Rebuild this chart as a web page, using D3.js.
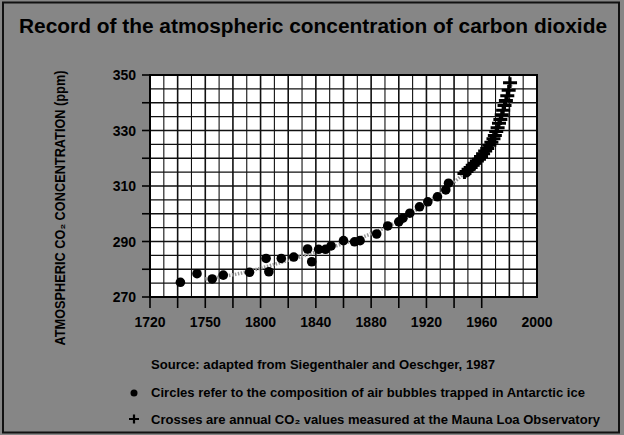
<!DOCTYPE html>
<html>
<head>
<meta charset="utf-8">
<script src="https://cdn.jsdelivr.net/npm/d3@7"></script>
<style>
  html, body { margin: 0; padding: 0; background: #868686; }
  svg { display: block; }
  text { font-family: "Liberation Sans", Arial, sans-serif; fill: #000; }
</style>
</head>
<body>
<svg id="chart" width="624" height="435"></svg>
<script>
// ---- data ----
const iceYears = [1742, 1754, 1765, 1773, 1792, 1804, 1806, 1815, 1824, 1834, 1837, 1842, 1847, 1851, 1860, 1868, 1872, 1884, 1892, 1900, 1903, 1908, 1915, 1921, 1928, 1934, 1936, 1949, 1953];
const icePpm   = [275.3, 278.4, 276.5, 277.9, 278.9, 283.9, 279.1, 283.9, 284.4, 287.3, 282.7, 287.2, 287.2, 288.4, 290.3, 289.9, 290.3, 292.7, 295.6, 297.1, 298.4, 300.2, 302.5, 304.3, 306.1, 308.6, 311.0, 314.8, 317.0];

const mloYears = [1947.5, 1949, 1950.5, 1952, 1953.5, 1955, 1956.5, 1958, 1959.5, 1961, 1962.5, 1964, 1965.5, 1967, 1968.5, 1969.5, 1970.5, 1971.5, 1972.5, 1973.5, 1974.5, 1975.5, 1976.5, 1977.5, 1978.5, 1979.5, 1980.5];
const mloPpm   = [314.5, 315.2, 316.0, 316.7, 317.5, 318.2, 319.0, 319.6, 320.6, 321.6, 322.6, 323.5, 324.7, 325.8, 327.0, 328.2, 329.6, 331.0, 332.6, 334.0, 335.7, 337.3, 339.0, 340.8, 342.5, 344.5, 347.2];

const trendYears = [1760, 1780, 1800, 1820, 1840, 1860, 1880, 1900, 1920, 1940, 1955, 1965, 1975, 1982];
const trendPpm   = [276.5, 277.8, 280.3, 283.2, 286.2, 289.2, 292.6, 297.2, 303.6, 311.2, 318.0, 324.2, 335.0, 348.0];

const xTickValues = [1720, 1760, 1800, 1840, 1880, 1920, 1960, 2000];
const xTickLabels = ["1720", "1750", "1800", "1840", "1880", "1920", "1960", "2000"];
const yTickValues = [270, 290, 310, 330, 350];

const titleText = "Record of the atmospheric concentration of carbon dioxide";
const yTitle = "ATMOSPHERIC CO\u2082 CONCENTRATION (ppm)";
const note1 = "Source: adapted from Siegenthaler and Oeschger, 1987";
const note2 = "Circles refer to the composition of air bubbles trapped in Antarctic ice";
const note3 = "Crosses are annual CO\u2082 values measured at the Mauna Loa Observatory";

// ---- drawing ----
const svg = d3.select("#chart");
const x = d3.scaleLinear().domain([1720, 2000]).range([150, 537]);
const y = d3.scaleLinear().domain([270, 350]).range([297, 75]);

// background and frame
svg.append("rect").attr("x", 0).attr("y", 0).attr("width", 624).attr("height", 435).attr("fill", "#868686");
svg.append("rect").attr("x", 3).attr("y", 2.5).attr("width", 616).attr("height", 430)
  .attr("fill", "none").attr("stroke", "#111").attr("stroke-width", 2);

// title
svg.append("text").attr("x", 19).attr("y", 33)
  .attr("font-size", 20).attr("font-weight", "bold")
  .attr("textLength", 588).attr("lengthAdjust", "spacingAndGlyphs")
  .text(titleText);

// plot area
svg.append("rect").attr("x", x(1720)).attr("y", y(350))
  .attr("width", x(2000) - x(1720)).attr("height", y(270) - y(350))
  .attr("fill", "#fff");

const g = svg.append("g");
// vertical grid every 10 years
d3.range(1720, 2001, 10).forEach(v => {
  g.append("line").attr("x1", x(v)).attr("x2", x(v)).attr("y1", y(350)).attr("y2", y(270))
    .attr("stroke", "#111").attr("stroke-width", (v % 20 === 0) ? 1.6 : 1.1);
});
// horizontal grid every 5 ppm
d3.range(270, 351, 5).forEach(v => {
  g.append("line").attr("x1", x(1720)).attr("x2", x(2000)).attr("y1", y(v)).attr("y2", y(v))
    .attr("stroke", "#111").attr("stroke-width", (v % 10 === 0) ? 1.6 : 1.1);
});
// outer plot border
g.append("rect").attr("x", x(1720)).attr("y", y(350))
  .attr("width", x(2000) - x(1720)).attr("height", y(270) - y(350))
  .attr("fill", "none").attr("stroke", "#000").attr("stroke-width", 2);

// x axis ticks (every 20 years up to 1960)
d3.range(1720, 1961, 20).forEach(v => {
  g.append("line").attr("x1", x(v)).attr("x2", x(v)).attr("y1", y(270)).attr("y2", y(270) + 11)
    .attr("stroke", "#000").attr("stroke-width", 1.6);
});
xTickValues.forEach((v, i) => {
  svg.append("text").attr("x", x(v)).attr("y", 327)
    .attr("text-anchor", "middle").attr("font-size", 14).attr("font-weight", "bold")
    .text(xTickLabels[i]);
});

// y axis ticks every 10 ppm
d3.range(270, 351, 10).forEach(v => {
  g.append("line").attr("x1", x(1720) - 8).attr("x2", x(1720)).attr("y1", y(v)).attr("y2", y(v))
    .attr("stroke", "#000").attr("stroke-width", 1.6);
});
yTickValues.forEach(v => {
  svg.append("text").attr("x", 136).attr("y", y(v) + 5)
    .attr("text-anchor", "end").attr("font-size", 14).attr("font-weight", "bold")
    .text(v);
});

// y title
svg.append("text")
  .attr("transform", "translate(65,208) rotate(-90)")
  .attr("text-anchor", "middle").attr("font-size", 14).attr("font-weight", "bold")
  .attr("textLength", 275).attr("lengthAdjust", "spacingAndGlyphs")
  .text(yTitle);

// trend (dotted grey)
const trend = trendYears.map((d, i) => [d, trendPpm[i]]);
g.append("path").datum(trend)
  .attr("d", d3.line().x(d => x(d[0])).y(d => y(d[1])).curve(d3.curveBasis))
  .attr("fill", "none").attr("stroke", "#9a9a9a").attr("stroke-width", 3.5)
  .attr("stroke-dasharray", "1.5,1.5");

// ice core circles
const ice = iceYears.map((d, i) => [d, icePpm[i]]);
g.selectAll("circle.ice").data(ice).enter().append("circle")
  .attr("class", "ice").attr("cx", d => x(d[0])).attr("cy", d => y(d[1]))
  .attr("r", 4.8).attr("fill", "#000");

// Mauna Loa crosses
const mlo = mloYears.map((d, i) => [d, mloPpm[i]]);
g.selectAll("path.mlo").data(mlo).enter().append("path")
  .attr("class", "mlo")
  .attr("d", d => {
    const cx = x(d[0]), cy = y(d[1]);
    return `M${cx - 7},${cy}H${cx + 7}M${cx},${cy - 5.5}V${cy + 5.5}`;
  })
  .attr("stroke", "#000").attr("stroke-width", 3).attr("fill", "none");

// notes
svg.append("text").attr("x", 151).attr("y", 369).attr("font-size", 13).attr("font-weight", "bold")
  .attr("textLength", 344).attr("lengthAdjust", "spacingAndGlyphs").text(note1);
svg.append("circle").attr("cx", 134).attr("cy", 393).attr("r", 3.5).attr("fill", "#000");
svg.append("text").attr("x", 151).attr("y", 397).attr("font-size", 13).attr("font-weight", "bold")
  .attr("textLength", 434).attr("lengthAdjust", "spacingAndGlyphs").text(note2);
svg.append("path").attr("d", "M129,419H139M134,414.5V423.5")
  .attr("stroke", "#000").attr("stroke-width", 2.2);
svg.append("text").attr("x", 151).attr("y", 424).attr("font-size", 13).attr("font-weight", "bold")
  .attr("textLength", 449).attr("lengthAdjust", "spacingAndGlyphs").text(note3);
</script>
</body>
</html>
